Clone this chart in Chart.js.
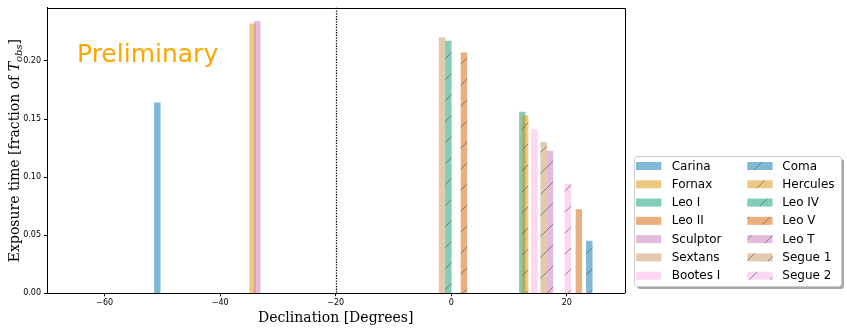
<!DOCTYPE html>
<html><head><meta charset="utf-8">
<script src="https://cdn.jsdelivr.net/npm/chart.js@4/dist/chart.umd.min.js"></script>
<style>html,body{margin:0;padding:0;background:#fff}canvas{display:block}</style>
</head><body>
<canvas id="c" width="847" height="331"></canvas>
<script>
// ---- data ----
const galaxies = ['Carina','Fornax','Leo I','Leo II','Sculptor','Sextans','Bootes I',
                  'Coma','Hercules','Leo IV','Leo V','Leo T','Segue 1','Segue 2'];
const declination = [-50.9,-34.4,12.3,22.1,-33.6,-1.6,14.4,
                     23.9,12.8,-0.5,2.2,17.1,16.0,20.2];
const exposure = [0.164,0.232,0.156,0.072,0.234,0.220,0.141,
                  0.045,0.153,0.217,0.207,0.1225,0.130,0.094];
const hatched = [false,false,false,false,false,false,false,
                 true,true,true,true,true,true,true];
const palette = ['#0173B2','#DE8F05','#029E73','#D55E00','#CC78BC','#CA9161','#FBAFE4'];
const colorIndex = [0,1,2,3,4,5,6,0,1,2,3,4,5,6];
const xTicks = [-60,-40,-20,0,20];
const xTickLabels = ['\u221260','\u221240','\u221220','0','20'];
const yTicks = [0,0.05,0.10,0.15,0.20];
const yTickLabels = ['0.00','0.05','0.10','0.15','0.20'];
const xRange = [-70,30];
const yRange = [0,0.2457];
const refLineX = -20;
const barWidthDeg = 1;

// ---- styles ----
function rgba(hex,a){const n=parseInt(hex.slice(1),16);return `rgba(${n>>16&255},${n>>8&255},${n&255},${a})`;}
function hatchPattern(fill){
  const P=21, c=document.createElement('canvas'); c.width=P; c.height=P;
  const g=c.getContext('2d');
  g.fillStyle=fill; g.fillRect(0,0,P,P);
  g.strokeStyle='rgba(80,80,80,0.6)'; g.lineWidth=1;
  g.beginPath();
  g.moveTo(-2,P+2); g.lineTo(P+2,-2);
  g.moveTo(-2,2); g.lineTo(2,-2);
  g.moveTo(P-2,P+2); g.lineTo(P+2,P-2);
  g.stroke();
  return g.createPattern(c,'repeat');
}
const fills = galaxies.map((n,i)=>{
  const base = rgba(palette[colorIndex[i]],0.5);
  return hatched[i] ? hatchPattern(base) : base;
});

const datasets = galaxies.map((name,i)=>({
  label:name,
  data:[{x:declination[i], y:exposure[i]}],
  backgroundColor:fills[i],
  borderWidth:0,
  grouped:false,
  order:galaxies.length-i
}));

const extras = {
  id:'extras',
  afterLayout(chart){
    const s=chart.scales.x;
    const w=Math.abs(s.getPixelForValue(barWidthDeg)-s.getPixelForValue(0));
    chart.data.datasets.forEach(d=>{d.barThickness=w;});
  },
  afterDatasetsDraw(chart){
    const {ctx, chartArea:a, scales:{x}} = chart;
    const px = Math.round(x.getPixelForValue(refLineX))+0.5;
    ctx.save();
    ctx.strokeStyle='#000'; ctx.lineWidth=1.3; ctx.setLineDash([1.3,1.4]);
    ctx.beginPath(); ctx.moveTo(px,a.top); ctx.lineTo(px,a.bottom); ctx.stroke();
    ctx.restore();
  },
  afterDraw(chart){
    const {ctx, chartArea:a} = chart;
    ctx.save();
    // top & right spines
    ctx.strokeStyle='#000'; ctx.lineWidth=1;
    ctx.beginPath();
    ctx.moveTo(Math.round(a.left),Math.round(a.top)+0.5); ctx.lineTo(Math.round(a.right)+0.5,Math.round(a.top)+0.5);
    ctx.lineTo(Math.round(a.right)+0.5,Math.round(a.bottom));
    ctx.stroke();
    // Preliminary
    ctx.fillStyle='#FFA500'; ctx.font='25px "DejaVu Sans"'; ctx.textBaseline='alphabetic'; ctx.textAlign='left';
    ctx.fillText('Preliminary', a.left+30, a.top+54);
    // x title
    ctx.fillStyle='#000'; ctx.font='14px "DejaVu Serif"'; ctx.textAlign='center';
    ctx.fillText('Declination [Degrees]', (a.left+a.right)/2, 321.5);
    // y title with italic T_obs
    ctx.translate(13.5,(a.top+a.bottom)/2); ctx.rotate(-Math.PI/2);
    ctx.textAlign='left';
    const p1='Exposure time [fraction of ', p4=']';
    const fMain='14px "DejaVu Serif"', fIt='italic 14px "DejaVu Serif"', fSub='italic 10px "DejaVu Serif"';
    ctx.font=fMain; const w1=ctx.measureText(p1).width, w4=ctx.measureText(p4).width;
    ctx.font=fIt; const w2=ctx.measureText('T').width;
    ctx.font=fSub; const w3=ctx.measureText('obs').width;
    let xx=-(w1+w2+w3+w4)/2; const by=5;
    ctx.font=fMain; ctx.fillText(p1,xx,by); xx+=w1;
    ctx.font=fIt; ctx.fillText('T',xx,by); xx+=w2;
    ctx.font=fSub; ctx.fillText('obs',xx,by+3); xx+=w3;
    ctx.font=fMain; ctx.fillText(p4,xx,by);
    ctx.restore();
    // legend
    ctx.save();
    const L={x:634.5,y:156.5,w:207,h:130,r:3};
    function rr(x,y,w,h,r){ctx.beginPath();ctx.moveTo(x+r,y);ctx.lineTo(x+w-r,y);ctx.arcTo(x+w,y,x+w,y+r,r);
      ctx.lineTo(x+w,y+h-r);ctx.arcTo(x+w,y+h,x+w-r,y+h,r);ctx.lineTo(x+r,y+h);ctx.arcTo(x,y+h,x,y+h-r,r);
      ctx.lineTo(x,y+r);ctx.arcTo(x,y,x+r,y,r);ctx.closePath();}
    rr(L.x+2.5,L.y+2.5,L.w,L.h,L.r); ctx.fillStyle='rgba(0,0,0,0.35)'; ctx.fill();
    rr(L.x,L.y,L.w,L.h,L.r); ctx.fillStyle='#fff'; ctx.fill(); ctx.strokeStyle='#cccccc'; ctx.lineWidth=1; ctx.stroke();
    ctx.font='12px "DejaVu Sans"'; ctx.textBaseline='middle'; ctx.textAlign='left';
    galaxies.forEach((name,i)=>{
      const col=Math.floor(i/7), row=i%7;
      const cy=166+row*18.28;
      const px=col?747.3:636, tx=col?782.3:671.7;
      ctx.fillStyle=fills[i]; ctx.fillRect(px,cy-4,25.3,8);
      ctx.fillStyle='#000'; ctx.fillText(name,tx,cy+0.5);
    });
    ctx.restore();
  }
};

Chart.defaults.font.family='"DejaVu Sans"';
Chart.defaults.color='#000';

new Chart(document.getElementById('c'),{
  type:'bar',
  data:{datasets},
  options:{
    responsive:false, animation:false, devicePixelRatio:1,
    layout:{padding:{left:0,right:222.5,top:6,bottom:0}},
    plugins:{legend:{display:false},tooltip:{enabled:false}},
    scales:{
      x:{type:'linear',min:xRange[0],max:xRange[1],offset:false,
        grid:{offset:false,drawOnChartArea:false,drawTicks:true,tickLength:3,tickColor:'#000',tickWidth:1},
        border:{display:true,color:'#000',width:1},
        ticks:{padding:1.5,color:'#000',font:{size:8},maxRotation:0,autoSkip:false,
          callback:(v)=>{const k=xTicks.indexOf(v);return k>=0?xTickLabels[k]:'';}},
        afterBuildTicks:(s)=>{s.ticks=xTicks.map(v=>({value:v}));},
        afterFit:(s)=>{s.height=37.7;}
      },
      y:{type:'linear',min:yRange[0],max:yRange[1],
        grid:{drawOnChartArea:false,drawTicks:true,tickLength:3,tickColor:'#000',tickWidth:1},
        border:{display:true,color:'#000',width:1},
        ticks:{padding:3,color:'#000',font:{size:8},
          callback:(v)=>{const k=yTicks.findIndex(t=>Math.abs(t-v)<1e-9);return k>=0?yTickLabels[k]:'';}},
        afterBuildTicks:(s)=>{s.ticks=yTicks.map(v=>({value:v}));},
        afterFit:(s)=>{s.width=47;}
      }
    }
  },
  plugins:[extras]
});
</script>
</body></html>
